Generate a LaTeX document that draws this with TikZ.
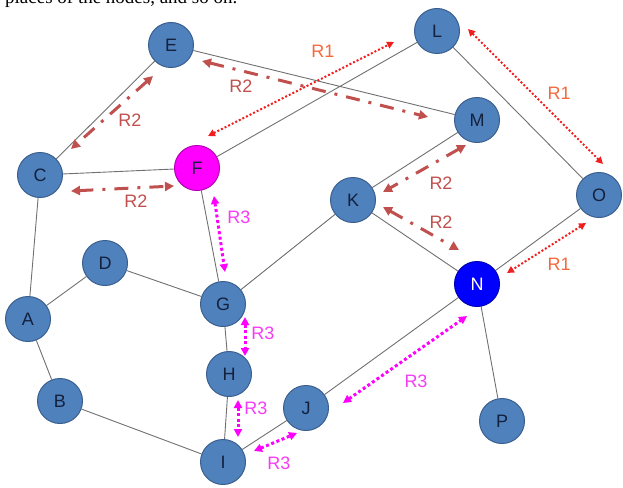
\documentclass[tikz,border=0pt]{standalone}
\usepackage{fontspec}
\setmainfont{Liberation Sans}
\newfontfamily\serifface{Liberation Serif}
\usetikzlibrary{arrows.meta,backgrounds}
\definecolor{nodefill}{HTML}{4F81BD}
\definecolor{nodeedge}{HTML}{3A5F8E}
\definecolor{nodetext}{HTML}{14213D}
\definecolor{edgegray}{HTML}{707070}
\definecolor{rone}{HTML}{F01E1E}
\definecolor{ronetext}{HTML}{F4683C}
\definecolor{rtwo}{HTML}{C0504D}
\definecolor{rthree}{HTML}{FF00FF}
\definecolor{rthreetext}{HTML}{F53CF5}
\tikzset{
  vtx/.style={circle, minimum size=45pt, inner sep=0pt, fill=nodefill, draw=nodeedge, line width=1pt,
    text=nodetext, font=\fontsize{18}{18}\selectfont},
  vtxf/.style={vtx, fill=rthree, draw=rthree!70!black},
  vtxn/.style={vtx, fill=blue, draw=blue!70!black, text=white},
  link/.style={draw=edgegray, line width=0.9pt},
  relone/.style={draw=rone, line width=2pt, dash pattern=on 2pt off 2pt,
    {Triangle[length=7pt,width=7pt]}-{Triangle[length=7pt,width=7pt]}},
  reltwo/.style={draw=rtwo, line width=3pt, dash pattern=on 14pt off 9pt on 3pt off 9pt,
    {Triangle[length=9pt,width=9pt]}-{Triangle[length=9pt,width=9pt]}},
  relthree/.style={draw=rthree, line width=3pt, dash pattern=on 3pt off 2.6pt,
    {Triangle[length=8pt,width=8pt]}-{Triangle[length=8pt,width=8pt]}},
  lblone/.style={text=ronetext, font=\fontsize{18}{18}\selectfont, inner sep=0pt},
  lbltwo/.style={text=rtwo, font=\fontsize{18}{18}\selectfont, inner sep=0pt},
  lblthree/.style={text=rthreetext, font=\fontsize{18}{18}\selectfont, inner sep=0pt},
}
\begin{document}
\begin{tikzpicture}[x=1pt,y=-1pt]
\useasboundingbox (0,0) rectangle (623,487);
\begin{scope}
\clip (0,0) rectangle (623,487);
\node[anchor=base west, inner sep=0pt, font=\serifface\fontsize{19}{19}\selectfont] (cap) at (5,4) {places of the nodes, and so on.};
\end{scope}
% nodes
\node[vtx] (E) at (171,45) {E};
\node[vtx] (C) at (40,175) {C};
\node[vtxf] (F) at (197,168) {F};
\node[vtx] (L) at (437,31) {L};
\node[vtx] (M) at (477,120) {M};
\node[vtx] (K) at (353,200) {K};
\node[vtx] (O) at (599,195) {O};
\node[vtx] (D) at (105,263) {D};
\node[vtx] (A) at (28,319) {A};
\node[vtx] (G) at (223,304) {G};
\node[vtx] (H) at (229,374) {H};
\node[vtx] (B) at (60,401) {B};
\node[vtx] (J) at (306,408) {J};
\node[vtx] (I) at (223,462) {I};
\node[vtxn] (N) at (477,284) {N};
\node[vtx] (P) at (502,421) {P};
% edges
\begin{pgfonlayer}{background}
\path[link] (E) -- (C) (E) -- (M) (C) -- (F) (F) -- (L) (F) -- (G)
  (C) -- (A) (A) -- (D) (A) -- (B) (D) -- (G) (G) -- (K) (G) -- (H)
  (H) -- (I) (B) -- (I) (I) -- (J) (J) -- (N) (K) -- (M) (K) -- (N)
  (N) -- (O) (N) -- (P) (L) -- (O);
\end{pgfonlayer}
% arrow end coordinates
\coordinate (fl1) at (208,136); \coordinate (fl2) at (394,42);
\coordinate (lo1) at (468,29);  \coordinate (lo2) at (603,164);
\coordinate (on1) at (586,223); \coordinate (on2) at (507,273);
\coordinate (ec1) at (153,76);  \coordinate (ec2) at (71,149);
\coordinate (cf1) at (71,191);  \coordinate (cf2) at (174,186);
\coordinate (em1) at (202,61);  \coordinate (em2) at (428,117);
\coordinate (mk1) at (466,145); \coordinate (mk2) at (383,192);
\coordinate (kn1) at (383,207); \coordinate (kn2) at (459,250);
\coordinate (fg1) at (214,196); \coordinate (fg2) at (225,272);
\coordinate (gh1) at (245,317); \coordinate (gh2) at (245,356);
\coordinate (hi1) at (238,400); \coordinate (hi2) at (238,437);
\coordinate (ij1) at (254,451); \coordinate (ij2) at (297,433);
\coordinate (jn1) at (343,403); \coordinate (jn2) at (467,316);
% R1
\draw[relone] (fl1) -- (fl2);
\draw[relone] (lo1) -- (lo2);
\draw[relone] (on1) -- (on2);
% R2
\draw[reltwo] (ec1) -- (ec2);
\draw[reltwo] (cf1) -- (cf2);
\draw[reltwo] (em1) -- (em2);
\draw[reltwo] (mk1) -- (mk2);
\draw[reltwo] (kn1) -- (kn2);
% R3
\draw[relthree] (fg1) -- (fg2);
\draw[relthree] (gh1) -- (gh2);
\draw[relthree] (hi1) -- (hi2);
\draw[relthree] (ij1) -- (ij2);
\draw[relthree] (jn1) -- (jn2);
% labels
\node[lblone] (t1) at (323,51) {R1};
\node[lblone] (t2) at (559,93) {R1};
\node[lblone] (t3) at (559,264) {R1};
\node[lbltwo] (t4) at (130,120) {R2};
\node[lbltwo] (t5) at (136,201) {R2};
\node[lbltwo] (t6) at (241,86) {R2};
\node[lbltwo] (t7) at (441,183) {R2};
\node[lbltwo] (t8) at (441,222) {R2};
\node[lblthree] (t9) at (239,217) {R3};
\node[lblthree] (t10) at (263,333) {R3};
\node[lblthree] (t11) at (256,408) {R3};
\node[lblthree] (t12) at (279,463) {R3};
\node[lblthree] (t13) at (416,381) {R3};
\end{tikzpicture}
\end{document}
